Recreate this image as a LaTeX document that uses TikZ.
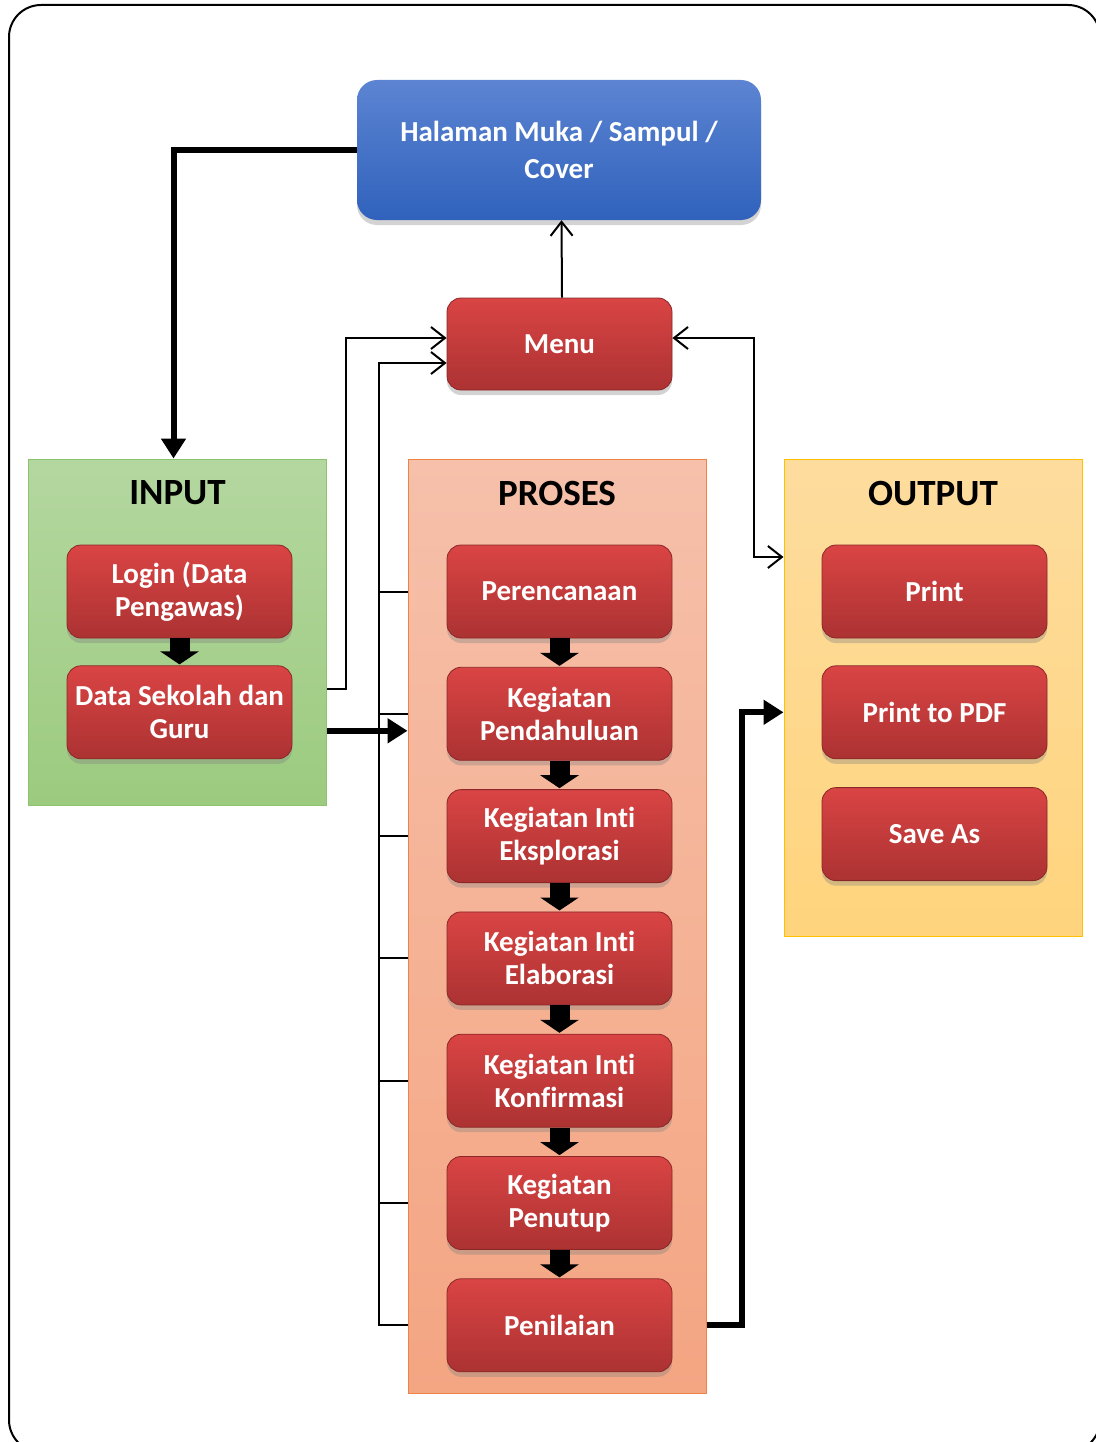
\documentclass[tikz,border=0pt]{standalone}
\usepackage{fontspec}
\setmainfont[Ligatures=NoCommon]{Carlito}
\usetikzlibrary{arrows.meta,positioning,calc,shadows}
\definecolor{boxred}{RGB}{218,68,68}
\definecolor{boxreddark}{RGB}{172,50,50}
\definecolor{coverblue}{RGB}{92,132,210}
\definecolor{coverbluedark}{RGB}{48,98,188}
\definecolor{inputgreen}{RGB}{180,215,160}
\definecolor{inputgreendark}{RGB}{156,203,127}
\definecolor{inputedge}{RGB}{140,195,110}
\definecolor{prosessalmon}{RGB}{246,192,170}
\definecolor{prosessalmondark}{RGB}{244,165,130}
\definecolor{prosesedge}{RGB}{240,130,70}
\definecolor{outputyellow}{RGB}{253,220,158}
\definecolor{outputyellowdark}{RGB}{255,212,125}
\definecolor{outputedge}{RGB}{255,192,0}

\begin{document}
\begin{tikzpicture}[x=1pt,y=-1pt,
    redbox/.style={rectangle, rounded corners=14pt, minimum width=225pt, minimum height=93pt,
      top color=boxred, bottom color=boxreddark, draw=boxreddark!80!black, line width=0.8pt,
      text=white, align=center, font=\bfseries\fontsize{29}{33}\selectfont,
      drop shadow={opacity=0.35, shadow xshift=0pt, shadow yshift=-5pt}},
    coverbox/.style={rectangle, rounded corners=20pt, minimum width=404pt, minimum height=140pt,
      top color=coverblue, bottom color=coverbluedark, text=white, align=center,
      font=\bfseries\fontsize{29}{37}\selectfont,
      drop shadow={opacity=0.35, shadow xshift=0pt, shadow yshift=-5pt}},
    panel/.style={rectangle, line width=1pt, minimum width=298pt},
    paneltitle/.style={font=\bfseries\fontsize{37}{40}\selectfont},
    thinline/.style={line width=2pt},
    thickline/.style={line width=6pt},
    barb/.style={-{Straight Barb[length=14pt,width=22pt,line width=2pt]}},
    twobarb/.style={{Straight Barb[length=14pt,width=22pt,line width=2pt]}-{Straight Barb[length=14pt,width=22pt,line width=2pt]}},
    bigtip/.style={-{Triangle[length=20pt,width=24pt]}},
    blockarrow/.style={line width=20pt, -{Triangle[length=13pt,width=38pt]}, shorten >=1pt}
  ]
  \useasboundingbox (0,0) rectangle (1095,1442);
  % Outer frame
  \draw[line width=2pt, rounded corners=32pt] (9,5) rectangle (1100,1452);

  % Panels
  \node[panel, minimum height=346pt, top color=inputgreen, bottom color=inputgreendark, draw=inputedge] (input) at (177.5,632) {};
  \node[panel, minimum height=934pt, top color=prosessalmon, bottom color=prosessalmondark, draw=prosesedge] (proses) at (557,926) {};
  \node[panel, minimum height=477pt, top color=outputyellow, bottom color=outputyellowdark, draw=outputedge] (output) at (933,697.5) {};
  \node[paneltitle] (inputtitle) at (177.5,493) {INPUT};
  \node[paneltitle] (prosestitle) at (557,493) {PROSES};
  \node[paneltitle] (outputtitle) at (933,493) {OUTPUT};

  % Top
  \node[coverbox] (cover) at (559,150) {Halaman Muka / Sampul /\\Cover};
  \node[redbox, minimum height=92pt] (menu) at (559.5,344) {Menu};

  % Input items
  \node[redbox] (login) at (179.5,591.5) {Login (Data\\Pengawas)};
  \node[redbox, below=27pt of login] (datasek) {Data Sekolah dan\\Guru};

  % Proses items
  \node[redbox] (rencana) at (559.5,591.5) {Perencanaan};
  \node[redbox, below=28.5pt of rencana] (pendahuluan) {Kegiatan\\Pendahuluan};
  \node[redbox, below=28.5pt of pendahuluan] (eksplorasi) {Kegiatan Inti\\Eksplorasi};
  \node[redbox, below=28.5pt of eksplorasi] (elaborasi) {Kegiatan Inti\\Elaborasi};
  \node[redbox, below=28.5pt of elaborasi] (konfirmasi) {Kegiatan Inti\\Konfirmasi};
  \node[redbox, below=28.5pt of konfirmasi] (penutup) {Kegiatan\\Penutup};
  \node[redbox, below=28.5pt of penutup] (penilaian) {Penilaian};

  % Output items
  \node[redbox] (print) at (934.5,591.5) {Print};
  \node[redbox, below=27pt of print] (printpdf) {Print to PDF};
  \node[redbox, below=28pt of printpdf] (saveas) {Save As};

  % Block arrows
  \foreach \a/\b in {login/datasek, rencana/pendahuluan, pendahuluan/eksplorasi,
      eksplorasi/elaborasi, elaborasi/konfirmasi, konfirmasi/penutup, penutup/penilaian}
    \draw[blockarrow] (\a.south) -- (\b.north);

  % Connectors
  \draw[thickline, bigtip] (cover.west) -| ([xshift=-4pt]input.north);
  \draw[thinline, barb] ([xshift=2.5pt]menu.north) -- ([xshift=2.5pt]cover.south);
  \draw[thinline, barb] ([yshift=23.5pt]datasek.east -| input.east) -- ++(19,0) |- ([yshift=6pt]menu.west);
  \draw[thinline, barb] (penilaian.west -| proses.west) -- ++(-29,0) |- ([yshift=-19pt]menu.west);
  \foreach \n in {rencana,pendahuluan,eksplorasi,elaborasi,konfirmasi,penutup}
    \draw[thinline] (\n.west -| proses.west) -- ++(-29,0);
  \draw[thinline, twobarb] ([yshift=6pt]menu.east) -- ++(82,0) |- ([yshift=34.5pt]print.west -| output.west);
  \draw[thickline, bigtip] ([yshift=-18.5pt]datasek.east -| input.east) -- ([yshift=-18.5pt]datasek.east -| proses.west);
  \draw[thickline, bigtip] (penilaian.east -| proses.east) -- ++(35,0) |- (printpdf.west -| output.west);
\end{tikzpicture}
\end{document}
